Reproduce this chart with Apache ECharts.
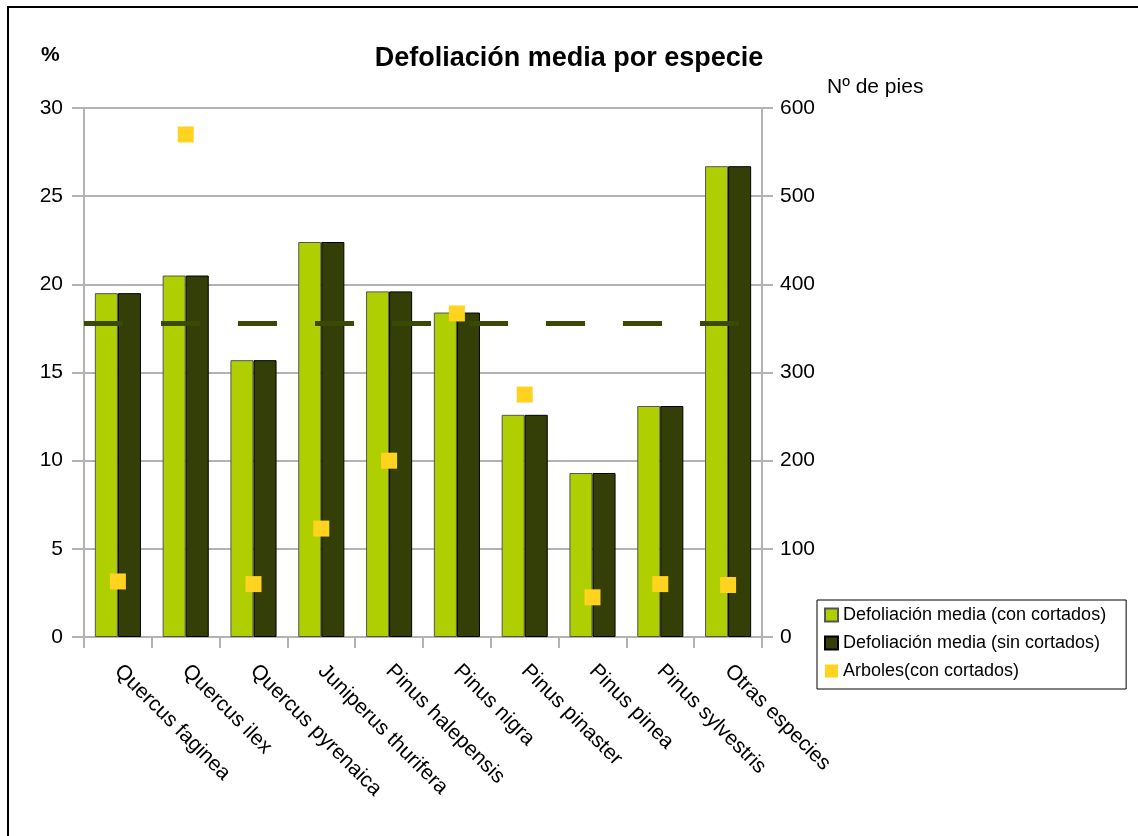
<!DOCTYPE html>
<html>
<head>
<meta charset="utf-8">
<script src="https://cdn.jsdelivr.net/npm/echarts@6/dist/echarts.min.js"></script>
<style>
  html, body { margin: 0; padding: 0; background: #fff; }
  #main { width: 1138px; height: 836px; }
</style>
</head>
<body>
<div id="main"></div>
<script>
// species on the x axis
const species = ['Quercus faginea', 'Quercus ilex', 'Quercus pyrenaica', 'Juniperus thurifera',
  'Pinus halepensis', 'Pinus nigra', 'Pinus pinaster', 'Pinus pinea', 'Pinus sylvestris', 'Otras especies']
// mean defoliation (%)
const conCortados = [19.5, 20.5, 15.7, 22.4, 19.6, 18.4, 12.6, 9.3, 13.1, 26.7]
const sinCortados = [19.5, 20.5, 15.7, 22.4, 19.6, 18.4, 12.6, 9.3, 13.1, 26.7]
// number of trees (right axis)
const arboles = [63, 570, 60, 123, 200, 367, 275, 45, 60, 59]
// overall mean defoliation (dashed line)
const mediaTotal = 17.8

const font = 'Liberation Sans, Arial, sans-serif'
const grey = '#b3b3b3'

var chart = echarts.init(document.getElementById('main'));
chart.setOption({
  animation: false,
  textStyle: { fontFamily: font },
  title: {
    text: 'Defoliación media por especie',
    left: 'center',
    top: 40,
    textStyle: { fontFamily: font, fontSize: 27, fontWeight: 'bold', color: '#000' }
  },
  graphic: [
    { type: 'rect', shape: { x: 8, y: 7, width: 1300, height: 1000 },
      style: { fill: 'none', stroke: '#000', lineWidth: 2 }, silent: true },
    { type: 'text', left: 41, top: 45,
      style: { text: '%', font: 'bold 21px ' + font, fill: '#000' } },
    { type: 'text', left: 827, top: 77,
      style: { text: 'Nº de pies', font: '21px ' + font, fill: '#000' } }
  ],
  legend: {
    orient: 'vertical',
    left: 817,
    top: 600,
    padding: [6, 20, 9, 7],
    itemGap: 10,
    itemWidth: 13,
    itemHeight: 13,
    backgroundColor: '#fff',
    borderColor: '#000',
    borderWidth: 1,
    textStyle: { fontFamily: font, fontSize: 18, color: '#000', padding: [0, 0, 0, 0] },
    data: [
      { name: 'Defoliación media (con cortados)', icon: 'rect' },
      { name: 'Defoliación media (sin cortados)', icon: 'rect' },
      { name: 'Arboles(con cortados)', icon: 'rect', itemStyle: { borderWidth: 0 } }
    ]
  },
  grid: { left: 84, right: 376, top: 108, bottom: 199 },
  xAxis: {
    type: 'category',
    data: species,
    axisLine: { lineStyle: { color: grey, width: 2 } },
    axisTick: { show: true, length: 11, lineStyle: { color: grey, width: 2 } },
    axisLabel: {
      rotate: -45,
      interval: 0,
      margin: 31,
      fontFamily: font,
      fontSize: 21,
      color: '#000'
    }
  },
  yAxis: [
    {
      type: 'value',
      min: 0, max: 30, interval: 5,
      axisLine: { show: true, lineStyle: { color: grey, width: 2 } },
      axisTick: { show: true, length: 12, lineStyle: { color: grey, width: 2 } },
      splitLine: { lineStyle: { color: grey, width: 2 } },
      axisLabel: { margin: 21, fontFamily: font, fontSize: 21, color: '#000' }
    },
    {
      type: 'value',
      min: 0, max: 600, interval: 100,
      axisLine: { show: true, lineStyle: { color: grey, width: 2 } },
      axisTick: { show: true, length: 11, lineStyle: { color: grey, width: 2 } },
      splitLine: { show: false },
      axisLabel: { margin: 18, fontFamily: font, fontSize: 21, color: '#000' }
    }
  ],
  series: [
    {
      name: 'Defoliación media (con cortados)',
      type: 'bar',
      data: conCortados,
      barGap: '0%',
      barCategoryGap: '32%',
      itemStyle: { color: '#afcf00', borderColor: '#555', borderWidth: 1 },
      z: 2
    },
    {
      name: 'Defoliación media (sin cortados)',
      type: 'bar',
      data: sinCortados,
      itemStyle: { color: '#333f06', borderColor: '#000', borderWidth: 1 },
      z: 2,
      markLine: {
        silent: true,
        symbol: 'none',
        z: 3,
        label: { show: false },
        lineStyle: { color: '#3a4a04', width: 5, type: [39, 38], cap: 'butt' },
        data: [{ yAxis: mediaTotal }]
      }
    },
    {
      name: 'Arboles(con cortados)',
      type: 'scatter',
      yAxisIndex: 1,
      data: arboles,
      symbol: 'rect',
      symbolSize: 16,
      itemStyle: { color: '#ffd320', opacity: 1 },
      z: 5
    }
  ]
})
</script>
</body>
</html>
